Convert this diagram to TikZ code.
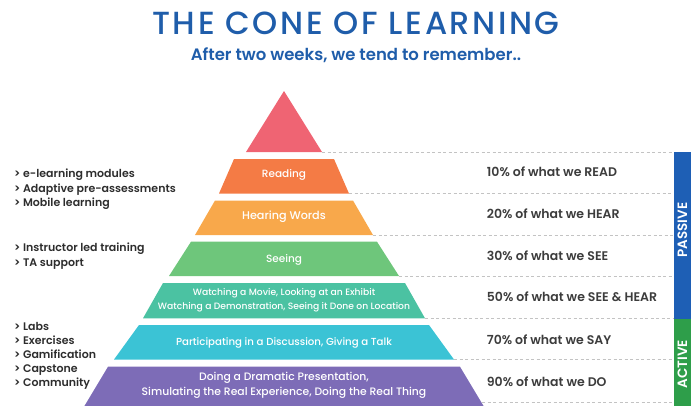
\documentclass[tikz,border=0pt]{standalone}
\usepackage{fontspec}
\setmainfont{Poppins}
\newfontfamily\popmed{Poppins Medium}
\newfontfamily\popsemi{Poppins SemiBold}
\usetikzlibrary{positioning}

\definecolor{titleblue}{RGB}{31,93,170}
\definecolor{cApex}{RGB}{239,100,115}
\definecolor{cRead}{RGB}{244,123,69}
\definecolor{cHear}{RGB}{248,168,75}
\definecolor{cSee}{RGB}{110,198,123}
\definecolor{cWatch}{RGB}{75,194,162}
\definecolor{cTalk}{RGB}{59,195,213}
\definecolor{cDo}{RGB}{125,108,183}
\definecolor{cPassive}{RGB}{30,95,181}
\definecolor{cActive}{RGB}{46,158,74}
\definecolor{leftgray}{RGB}{45,45,45}
\definecolor{rightgray}{RGB}{60,60,60}
\definecolor{dashgray}{RGB}{195,195,195}

\begin{document}
\begin{tikzpicture}[
  x=1pt, y=-1pt,
  tier/.style={inner sep=0pt, text=white, font=\popmed\fontsize{10.5}{14}\selectfont, align=center},
  recall/.style={anchor=west, inner sep=0pt, text=rightgray, font=\popsemi\fontsize{12.5}{14}\selectfont},
  item/.style={anchor=west, inner sep=0pt, text=leftgray, font=\popsemi\fontsize{11}{14.2}\selectfont, align=left},
  guide/.style={draw=dashgray, line width=0.6pt, dash pattern=on 3pt off 2.5pt},
  band/.style={inner sep=0pt, minimum width=18pt, anchor=north west},
  bandtext/.style={rotate=90, inner sep=0pt, text=white, font=\popsemi\fontsize{13.5}{15}\selectfont}
]
\useasboundingbox (0,0) rectangle (691,405);
\clip (0,0) rectangle (691,405);

% Title
\node (title) at (356,23) [text=titleblue, font=\popmed\fontsize{32}{34}\selectfont\addfontfeature{LetterSpace=8}] {THE CONE OF LEARNING};
\node (subtitle) at (356,55) [text=titleblue, font=\popsemi\fontsize{16.5}{18}\selectfont] {After two weeks, we tend to remember..};

% Cone tiers
\fill[cApex] (284,91) -- (322,152) -- (246,152) -- cycle;
\coordinate (apex-br) at (322,152);
\foreach \name/\col/\yt/\yb/\wt/\wb in {
    read/cRead/159/193.5/50/65,
    hear/cHear/200.5/235/69/89,
    see/cSee/241.7/276/93/115,
    watch/cWatch/283/318.3/121/141,
    talk/cTalk/325/359.5/145/170,
    do/cDo/366.7/410/176/202}{
  \fill[\col] (284-\wt,\yt) -- (284+\wt,\yt) -- (284+\wb,\yb) -- (284-\wb,\yb) -- cycle;
  \coordinate (\name-br) at (284+\wb,\yb);
}
\coordinate (do-end) at (482,402);

% Tier labels
\node[tier] (lread) at (284,175) {Reading};
\node[tier, font=\popmed\fontsize{11.2}{14}\selectfont] (lhear) at (284,216.7) {Hearing Words};
\node[tier] (lsee) at (284,260) {Seeing};
\node[tier, font=\popmed\fontsize{9.2}{14}\selectfont] (lwatch) at (284,300.3) {Watching a Movie, Looking at an Exhibit\\Watching a Demonstration, Seeing it Done on Location};
\node[tier, font=\popmed\fontsize{10.2}{14}\selectfont] (ltalk) at (284,342.7) {Participating in a Discussion, Giving a Talk};
\node[tier, font=\popmed\fontsize{10.8}{14.4}\selectfont] (ldo) at (284,385.5) {Doing a Dramatic Presentation,\\Simulating the Real Experience, Doing the Real Thing};

% Passive / active bar
\node[band, fill=cPassive, minimum height=166.6pt] (passive) at (673.3,151.7) {};
\node[band, fill=cActive, minimum height=92pt] (active) at (673.3,318.3) {};
\node[bandtext] (lpassive) at (682.5,230) {PASSIVE};
\node[bandtext] (lactive) at (682.5,364) {ACTIVE};

% Guide lines
\foreach \name in {apex,read,hear,see,watch,talk}
  \draw[guide] (\name-br) -- (\name-br -| passive.west);
\draw[guide] (do-end) -- (do-end -| active.west);

% Retention
\node[recall] (r10) at (486.7,171.7) {10\% of what we READ};
\node[recall] (r20) at (486.7,213.3) {20\% of what we HEAR};
\node[recall] (r30) at (486.7,256) {30\% of what we SEE};
\node[recall] (r50) at (486.7,296.7) {50\% of what we SEE \& HEAR};
\node[recall] (r70) at (486.7,339.3) {70\% of what we SAY};
\node[recall] (r90) at (486.7,381.7) {90\% of what we DO};

% Delivery methods
\node[item] (online) at (14,189.2) {> e-learning modules\\> Adaptive pre-assessments\\> Mobile learning};
\node[item] (classroom) at (14,256.2) {> Instructor led training\\> TA support};
\node[item] (practice) at (14,355.8) {> Labs\\> Exercises\\> Gamification\\> Capstone\\> Community};

\end{tikzpicture}
\end{document}
